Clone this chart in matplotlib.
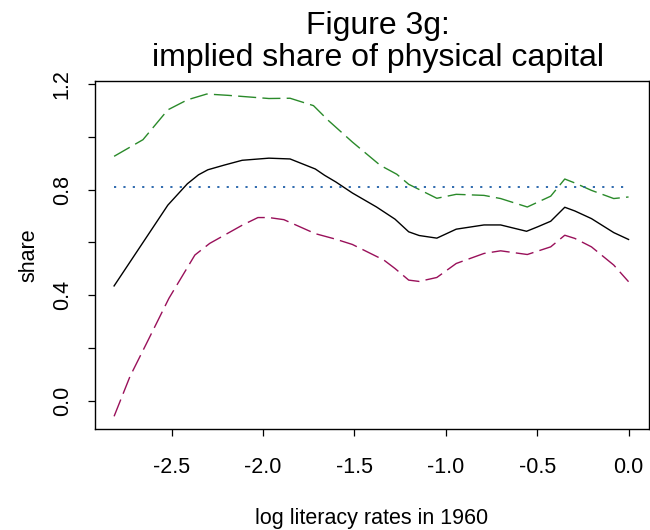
import numpy as np
import matplotlib
matplotlib.use("Agg")
import matplotlib.pyplot as plt

plt.rcParams['font.family'] = ['Liberation Sans', 'DejaVu Sans']

# Estimate (solid black)
x_est = [-2.815, -2.667, -2.521, -2.414, -2.353, -2.302, -2.211, -2.114, -1.968,
         -1.852, -1.714, -1.663, -1.602, -1.511, -1.379, -1.278, -1.203, -1.146,
         -1.049, -0.943, -0.791, -0.700, -0.629, -0.558, -0.497, -0.426, -0.349,
         -0.294, -0.203, -0.081, 0.0]
y_est = [0.435, 0.589, 0.741, 0.822, 0.856, 0.875, 0.893, 0.911, 0.919,
         0.916, 0.878, 0.854, 0.829, 0.787, 0.734, 0.688, 0.640, 0.626,
         0.616, 0.650, 0.666, 0.666, 0.654, 0.642, 0.659, 0.680, 0.733,
         0.719, 0.690, 0.637, 0.611]

# Upper band (green)
x_up = [-2.815, -2.657, -2.521, -2.414, -2.308, -2.191, -1.968, -1.852, -1.724,
        -1.643, -1.511, -1.359, -1.268, -1.203, -1.049, -0.943, -0.791, -0.700,
        -0.554, -0.426, -0.349, -0.294, -0.203, -0.081, 0.0]
y_up = [0.926, 0.989, 1.102, 1.140, 1.162, 1.157, 1.145, 1.146, 1.118,
        1.062, 0.980, 0.892, 0.858, 0.820, 0.767, 0.782, 0.778, 0.766,
        0.734, 0.775, 0.840, 0.825, 0.797, 0.766, 0.772]

# Lower band (purple)
x_lo = [-2.815, -2.728, -2.637, -2.515, -2.373, -2.292, -2.114, -2.028, -1.968,
        -1.886, -1.714, -1.602, -1.511, -1.339, -1.278, -1.203, -1.146, -1.049,
        -0.943, -0.791, -0.700, -0.554, -0.426, -0.349, -0.294, -0.203, -0.081, 0.0]
y_lo = [-0.059, 0.092, 0.218, 0.388, 0.552, 0.596, 0.665, 0.694, 0.694,
        0.686, 0.633, 0.612, 0.592, 0.533, 0.501, 0.457, 0.452, 0.467,
        0.520, 0.558, 0.568, 0.554, 0.583, 0.627, 0.615, 0.583, 0.514, 0.451]

# Reference share (blue dotted)
x_ref = [-2.815, 0.0]
y_ref = [0.81, 0.81]

x_ticks = [-2.5, -2.0, -1.5, -1.0, -0.5, 0.0]
y_ticks = [0.0, 0.2, 0.4, 0.6, 0.8, 1.0, 1.2]
y_ticklabels = ['0.0', '', '0.4', '', '0.8', '', '1.2']

fig = plt.figure(figsize=(6.5, 5.3), dpi=100)
ax = fig.add_axes([0.146, 0.1906, 0.8525, 0.6564])

ax.plot(x_up, y_up, color='#2a8a2a', lw=1.0, dashes=(13, 4.5))
ax.plot(x_est, y_est, color='black', lw=1.0)
ax.plot(x_lo, y_lo, color='#99105a', lw=1.0, dashes=(13, 4.5))
ax.plot(x_ref, y_ref, color='#1f5fa8', lw=1.3, dashes=(1.2, 4))

ax.set_xlim(-2.92, 0.112)
ax.set_ylim(-0.107, 1.211)
ax.set_xticks(x_ticks)
ax.set_xticklabels([f'{t:.1f}' for t in x_ticks])
ax.set_yticks(y_ticks)
ax.set_yticklabels(y_ticklabels, rotation=90, va='center')

ax.tick_params(axis='both', direction='out', length=5, width=0.9,
               labelsize=15.5, color='black')
ax.tick_params(axis='x', pad=15)
ax.tick_params(axis='y', pad=11)
for sp in ax.spines.values():
    sp.set_linewidth(1.0)

ax.set_xlabel('log literacy rates in 1960', fontsize=15.5, labelpad=22)
ax.set_ylabel('share', fontsize=15.5, labelpad=9)
ax.set_title('Figure 3g:\nimplied share of physical capital', fontsize=23,
             linespacing=1.08, pad=11, x=0.511)

fig.savefig('out.png', dpi=100)
